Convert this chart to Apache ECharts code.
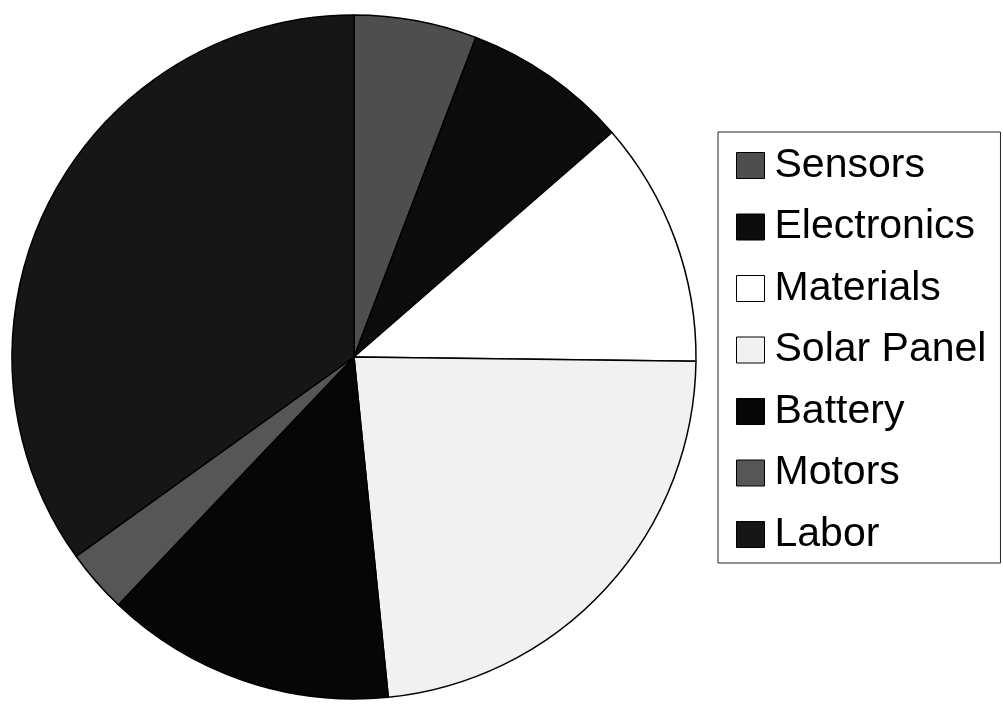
<!DOCTYPE html>
<html>
<head>
<meta charset="utf-8">
<title>Cost breakdown</title>
<script src="https://cdn.jsdelivr.net/npm/echarts@6/dist/echarts.min.js"></script>
<style>
  html, body { margin: 0; padding: 0; background: #ffffff; }
  #chart { width: 1003px; height: 705px; }
</style>
</head>
<body>
<div id="chart"></div>
<script>
// Cost shares (percent of total), listed clockwise from 12 o'clock
const categories = ['Sensors', 'Electronics', 'Materials', 'Solar Panel', 'Battery', 'Motors', 'Labor'];
const shares = [5.8, 7.8, 11.6, 23.2, 13.7, 3.0, 34.9];
const sliceColors = ['#4e4e4e', '#0c0c0c', '#ffffff', '#f1f1f1', '#060606', '#565656', '#161616'];

const chart = echarts.init(document.getElementById('chart'), null, { renderer: 'canvas' });

chart.setOption({
  animation: false,
  backgroundColor: '#ffffff',
  legend: {
    orient: 'vertical',
    left: 718,
    top: 132,
    padding: [13, 14, 8, 18],
    borderColor: '#222',
    borderWidth: 1,
    backgroundColor: '#ffffff',
    icon: 'rect',
    itemWidth: 28,
    itemHeight: 26,
    itemGap: 20.5,
    selectedMode: false,
    data: categories,
    itemStyle: { borderColor: '#000', borderWidth: 1 },
    textStyle: {
      fontFamily: 'Liberation Sans, Arial, sans-serif',
      fontSize: 41,
      lineHeight: 40,
      color: '#000',
      padding: [0, 0, 0, 5]
    }
  },
  series: [{
    type: 'pie',
    center: [354, 357],
    radius: 342,
    startAngle: 90,
    clockwise: true,
    label: { show: false },
    labelLine: { show: false },
    emphasis: { disabled: true },
    itemStyle: { borderColor: '#000', borderWidth: 1.5 },
    data: categories.map((name, i) => ({
      name: name,
      value: shares[i],
      itemStyle: { color: sliceColors[i] }
    }))
  }]
});
</script>
</body>
</html>
